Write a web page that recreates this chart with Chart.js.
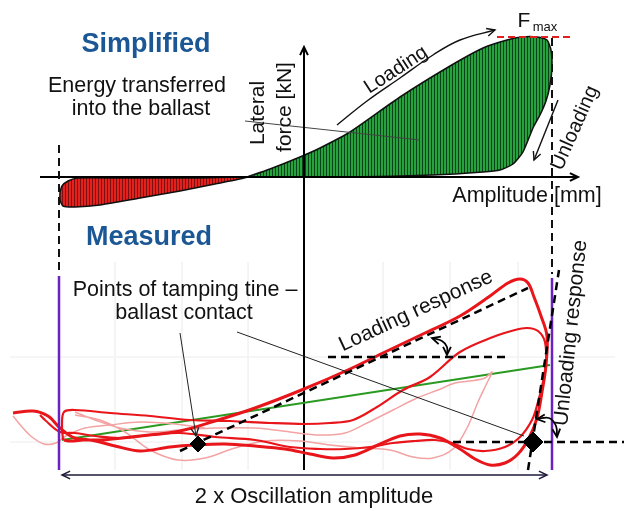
<!DOCTYPE html>
<html>
<head>
<meta charset="utf-8">
<script src="https://cdn.jsdelivr.net/npm/chart.js@4.4.1/dist/chart.umd.min.js"></script>
<style>
  html, body { margin: 0; padding: 0; background: #fff; }
  #wrap { width: 624px; height: 511px; position: relative; }
</style>
</head>
<body>
<div id="wrap"><canvas id="c"></canvas></div>
<script>
// picture read as amplitude (x, left->right) and force (y, top->bottom, reversed axis)
const X_RANGE = [0, 624];
const Y_RANGE = [0, 511];

// --- simplified (upper) diagram ---
const redEnergy = [[60,192],[62,186],[68,181],[78,178],[120,178],[200,178],[247,177],[215,184],[180,191],[140,198],[100,205],[75,207],[63,206],[60,200],[60,192]];
const greenEnergy = [[247,177],[270,169],[300,157],[320,148],[350,132],[400,97],[450,66],[483,48],[507,40],[522,37],[537,37],[547,40],[551,50],[552,67],[550,85],[546,101],[540,115],[533,128],[523,152],[513,164],[500,170],[483,172],[433,175],[350,177],[247,177]];
const axisAmplitude = [[40,177],[578,177]];
const axisForce = [[304,470],[304,47]];
const fmaxLine = [[497,37],[573,37]];
const loadingArrow = [[337,125],[367,101],[400,78],[433,55],[460,40],[495,30]];
const unloadingArrow = [[558,100],[534,160]];
const energyLeader = [[245,121],[420,140]];
const limitLeft = [[59,145],[59,272]];
const limitRight = [[552,38],[552,274]];

// --- measured (lower) diagram ---
const gridH = [[[10,357],[615,357]], [[10,442],[460,442]]];
const gridV = [115,182,248,383,450,518];
const ampLeft = [[59,276],[59,470]];
const ampRight = [[552,278],[552,470]];
const oscArrow = [[62,475],[547,475]];
const greenFit = [[62,440],[550,365]];
const loadResp = [[180,451],[528,288]];
const loadRef = [[328,357],[507,357]];
const unloadResp = [[528,470],[559,270]];
const unloadRef = [[453,442],[624,442]];
const arcLoad = [[432,338],[442,341],[447,347],[447,355]];
const arcUnload = [[537,419],[549,418],[556,426],[557,437]];
const contactPts = [[198,444],[533,442]];
const contactLeader1 = [[180,333],[196,436]];
const contactLeader2 = [[237,332],[524,436]];

const loopBig = [[13,413],[33,411],[48,416],[60,428],[75,438],[100,440],[140,436],[180,431],[215,421],[255,408],[304,389],[350,369],[385,352],[425,333],[460,316],[490,296],[508,283],[520,279],[528,283],[534,297],[541,316],[547,336],[546,365],[542,392],[537,418],[529,438],[518,454],[505,463],[490,465],[475,459],[460,449],[440,438],[420,434],[400,436],[378,445],[355,455],[333,458],[310,454],[285,449],[255,446],[225,444],[195,445],[170,447],[140,451],[115,446],[90,440],[70,441],[64,440]];
const loopMid = [[63,440],[62,425],[64,412],[75,410],[110,413],[150,416],[190,420],[230,421],[270,423],[304,424],[330,423],[353,420],[377,407],[403,390],[430,377],[460,352],[493,337],[515,330],[527,328],[538,331],[545,342],[546,365],[543,382],[538,402],[532,420],[520,437],[505,447],[485,451],[468,449],[452,443],[435,440],[415,441],[393,443],[370,447],[345,449],[320,449],[290,447],[255,440],[215,437],[180,433],[150,435],[120,438],[95,436],[75,433],[60,432],[45,420],[40,415]];
const loopPale = [[75,415],[100,420],[125,432],[150,450],[178,460],[205,458],[235,448],[265,441],[300,441],[330,445],[360,448],[390,450],[413,457],[433,458],[453,449],[467,428],[478,402],[486,385],[492,372],[485,378],[470,381],[455,383],[438,390],[417,398],[393,410],[367,423],[345,433],[320,435],[290,432],[255,428],[215,428],[180,430],[150,432],[120,428],[95,420],[75,412]];
const loopPaleLeft = [[13,416],[22,427],[32,437],[44,444],[56,443],[66,436],[85,428],[110,425],[140,422],[175,424],[205,428]];

const FONT = '"Liberation Sans", Arial, sans-serif';
const BLUE = "#1b5795";
const labels = [
  { t: "Simplified", x: 146, y: 45, size: 27, bold: true, color: BLUE },
  { t: "Energy transferred", x: 137, y: 86, size: 21.5 },
  { t: "into the ballast", x: 141, y: 109, size: 21.5 },
  { t: "Lateral", x: 258, y: 113, size: 21, rot: -90 },
  { t: "force [kN]", x: 285, y: 107, size: 21, rot: -90 },
  { t: "Loading", x: 396, y: 70, size: 20, rot: -33 },
  { t: "Unloading", x: 575, y: 128, size: 20, rot: -66 },
  { t: "F", x: 524, y: 21, size: 21 },
  { t: "max", x: 545, y: 27, size: 13 },
  { t: "Amplitude [mm]", x: 527, y: 196, size: 21.5 },
  { t: "Measured", x: 149, y: 238, size: 27, bold: true, color: BLUE },
  { t: "Points of tamping tine \u2013", x: 185, y: 290, size: 21.5 },
  { t: "ballast contact", x: 184, y: 313, size: 21.5 },
  { t: "Loading response", x: 416, y: 311, size: 21, rot: -25 },
  { t: "Unloading response", x: 571, y: 333, size: 21, rot: -84 },
  { t: "2 x Oscillation amplitude", x: 314, y: 497, size: 22 },
];

const pts = (a) => a.map(([x, y]) => ({ x, y }));

function hatch(base, stripe) {
  const p = document.createElement("canvas");
  p.width = 3; p.height = 4;
  const g = p.getContext("2d");
  g.fillStyle = base; g.fillRect(0, 0, 3, 4);
  g.fillStyle = stripe; g.fillRect(2, 0, 1, 4);
  return g.createPattern(p, "repeat");
}

function line(data, color, width, extra) {
  return Object.assign({ data: pts(data), showLine: true, borderColor: color, borderWidth: width, pointRadius: 0, fill: false, tension: 0 }, extra || {});
}

const RED = "#e8161b", PINK = "#f3a3a3", DASH = [8, 5];
const layers = [
  ...gridH.map((g) => line(g, "#ececec", 1)),
  ...gridV.map((x) => line([[x, 262], [x, 470]], "#f3f3f3", 1)),
  line(redEnergy, "#111", 1.5, { fill: "shape", backgroundColor: hatch("#e3221d", "#7c0f0f"), tension: 0.2 }),
  line(greenEnergy, "#111", 1.5, { fill: "shape", backgroundColor: hatch("#26a33e", "#0c4218"), tension: 0.2 }),
  line(energyLeader, "#444", 1),
  line(axisAmplitude, "#000", 2, { arrow: "end" }),
  line(axisForce, "#000", 2, { arrow: "end" }),
  line(limitLeft, "#111", 2, { borderDash: DASH }),
  line(limitRight, "#111", 2, { borderDash: DASH }),
  line(fmaxLine, "#e02020", 2, { borderDash: [7, 4] }),
  line(loadingArrow, "#111", 1.4, { tension: 0.4, arrow: "end" }),
  line(unloadingArrow, "#111", 1.4, { arrow: "end" }),
  line(greenFit, "#2a9a22", 2),
  line(loopPaleLeft, PINK, 1.5, { tension: 0.35 }),
  line(loopPale, PINK, 1.5, { tension: 0.35 }),
  line(loopMid, RED, 2.2, { tension: 0.35 }),
  line(loopBig, RED, 3, { tension: 0.35 }),
  line(ampLeft, "#6a22c0", 2.5),
  line(ampRight, "#6a22c0", 2.5),
  line(oscArrow, "#1d1b3a", 1.5, { arrow: "both" }),
  line(contactLeader1, "#222", 1, { arrow: "end" }),
  line(contactLeader2, "#222", 1),
  line(loadResp, "#000", 2.5, { borderDash: DASH }),
  line(loadRef, "#000", 2.5, { borderDash: DASH }),
  line(unloadResp, "#000", 2.5, { borderDash: DASH }),
  line(unloadRef, "#000", 2.5, { borderDash: DASH }),
  line(arcLoad, "#000", 1.8, { tension: 0.4, arrow: "both" }),
  line(arcUnload, "#000", 1.8, { tension: 0.4, arrow: "both" }),
  { data: pts(contactPts), showLine: false, pointStyle: "rectRot", pointRadius: [8, 10], backgroundColor: "#000", borderColor: "#000" },
];
layers.forEach((d, i) => (d.order = layers.length - i));

const arrowPlugin = {
  id: "arrows",
  afterDatasetsDraw(chart) {
    const ctx = chart.ctx;
    chart.data.datasets.forEach((ds, i) => {
      if (!ds.arrow) return;
      const el = chart.getDatasetMeta(i).data;
      const head = (a, b) => {
        const ang = Math.atan2(b.y - a.y, b.x - a.x), L = 9, s = 0.45;
        ctx.beginPath();
        ctx.moveTo(b.x - L * Math.cos(ang - s), b.y - L * Math.sin(ang - s));
        ctx.lineTo(b.x, b.y);
        ctx.lineTo(b.x - L * Math.cos(ang + s), b.y - L * Math.sin(ang + s));
        ctx.stroke();
      };
      ctx.save();
      ctx.strokeStyle = ds.borderColor; ctx.lineWidth = Math.max(1.4, ds.borderWidth); ctx.setLineDash([]);
      const n = el.length;
      if (ds.arrow === "end" || ds.arrow === "both") head(el[n - 2], el[n - 1]);
      if (ds.arrow === "start" || ds.arrow === "both") head(el[1], el[0]);
      ctx.restore();
    });
  },
};

const textPlugin = {
  id: "texts",
  afterDraw(chart) {
    const { ctx, scales } = chart;
    labels.forEach((l) => {
      ctx.save();
      ctx.translate(scales.x.getPixelForValue(l.x), scales.y.getPixelForValue(l.y));
      if (l.rot) ctx.rotate((l.rot * Math.PI) / 180);
      ctx.font = `${l.bold ? "bold " : ""}${l.size}px ${FONT}`;
      ctx.fillStyle = l.color || "#111";
      ctx.textAlign = "center"; ctx.textBaseline = "middle";
      ctx.fillText(l.t, 0, 0);
      ctx.restore();
    });
  },
};

new Chart(document.getElementById("c"), {
  type: "scatter",
  data: { datasets: layers },
  options: {
    responsive: true, maintainAspectRatio: false, animation: false,
    layout: { padding: 0, autoPadding: false },
    plugins: { legend: { display: false }, tooltip: { enabled: false } },
    scales: {
      x: { type: "linear", min: X_RANGE[0], max: X_RANGE[1], display: false },
      y: { type: "linear", min: Y_RANGE[0], max: Y_RANGE[1], reverse: true, display: false },
    },
  },
  plugins: [arrowPlugin, textPlugin],
});
</script>
</body>
</html>
